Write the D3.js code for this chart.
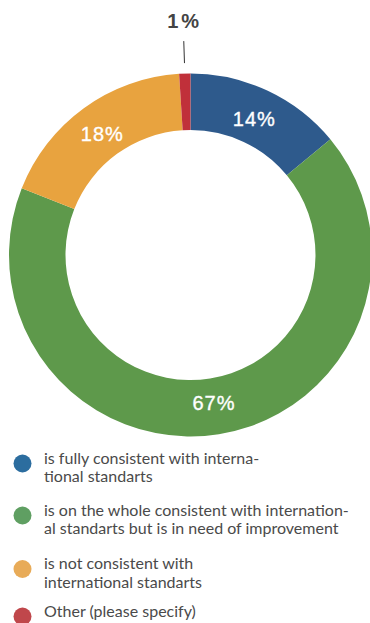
<!DOCTYPE html>
<html>
<head>
<meta charset="utf-8">
<script src="https://cdn.jsdelivr.net/npm/d3@7"></script>
<style>
  html, body { margin: 0; padding: 0; background: #fff; }
  svg { display: block; }
</style>
</head>
<body>
<svg id="chart" width="370" height="623"></svg>
<script>
// Survey answer categories, their shares (%) and colours
const categories = [
  ["is fully consistent with interna-", "tional standarts"],
  ["is on the whole consistent with internation-", "al standarts but is in need of improvement"],
  ["is not consistent with", "international standarts"],
  ["Other (please specify)"]
];
const values = [14, 67, 18, 1];
const sliceColors = ["#2e5a8c", "#5e994b", "#e8a33f", "#c0303a"];
const legendColors = ["#2c6d9f", "#5f9f62", "#e8ab58", "#c0474b"];

const svg = d3.select("#chart");
const cx = 190.5, cy = 255;
const outerR = 181.5, innerR = 125;

const pie = d3.pie().sort(null).value(d => d)(values);
const arc = d3.arc().innerRadius(innerR).outerRadius(outerR);
const labelArc = d3.arc().innerRadius(150).outerRadius(150);

const g = svg.append("g").attr("transform", `translate(${cx},${cy})`);

g.selectAll("path.slice")
  .data(pie)
  .enter().append("path")
  .attr("class", "slice")
  .attr("d", arc)
  .attr("fill", (d, i) => sliceColors[i]);

// Labels inside the ring for larger slices
g.selectAll("text.inner")
  .data(pie.filter(d => d.value >= 5))
  .enter().append("text")
  .attr("class", "inner")
  .attr("transform", d => `translate(${labelArc.centroid(d)})`)
  .attr("text-anchor", "middle")
  .attr("dy", "0.36em")
  .attr("fill", "#fff")
  .attr("stroke", "#fff")
  .attr("stroke-width", 0.35)
  .style("font-family", "'Liberation Sans', Arial, sans-serif")
  .style("font-size", "20px")
  .style("letter-spacing", "1px")
  .text(d => d.value + "%");

// Small slices get an outside label with a leader line
const small = pie.filter(d => d.value < 5);
small.forEach(d => {
  const a = (d.startAngle + d.endAngle) / 2;
  const pt = r => [r * Math.sin(a), -r * Math.cos(a)];
  const p1 = pt(192), p2 = pt(214), p3 = pt(234);
  g.append("line")
    .attr("x1", p1[0]).attr("y1", p1[1])
    .attr("x2", p2[0]).attr("y2", p2[1])
    .attr("stroke", "#333").attr("stroke-width", 1);
  g.append("text")
    .attr("x", p3[0] + 1.5).attr("y", p3[1])
    .attr("text-anchor", "middle")
    .attr("dy", "0.36em")
    .attr("fill", "#444")
    .style("font-family", "'Liberation Sans', Arial, sans-serif")
    .style("font-weight", "bold")
    .style("font-size", "20px")
    .style("letter-spacing", "3px")
    .text(d.value + "%");
});

// Legend
const legendY = [458, 510, 563.5, 611];
const legend = svg.append("g");
categories.forEach((lines, i) => {
  const row = legend.append("g").attr("transform", `translate(0,${legendY[i]})`);
  row.append("circle")
    .attr("cx", 22.5).attr("cy", 5.5).attr("r", 9)
    .attr("fill", legendColors[i]);
  const t = row.append("text")
    .attr("x", 44)
    .attr("fill", "#4a4a4a")
    .style("font-family", "Lato, sans-serif")
    .style("font-size", "16px");
  lines.forEach((ln, j) => {
    t.append("tspan")
      .attr("x", 44)
      .attr("y", j * 18.5)
      .attr("dy", "0.35em")
      .text(ln);
  });
});
</script>
</body>
</html>
